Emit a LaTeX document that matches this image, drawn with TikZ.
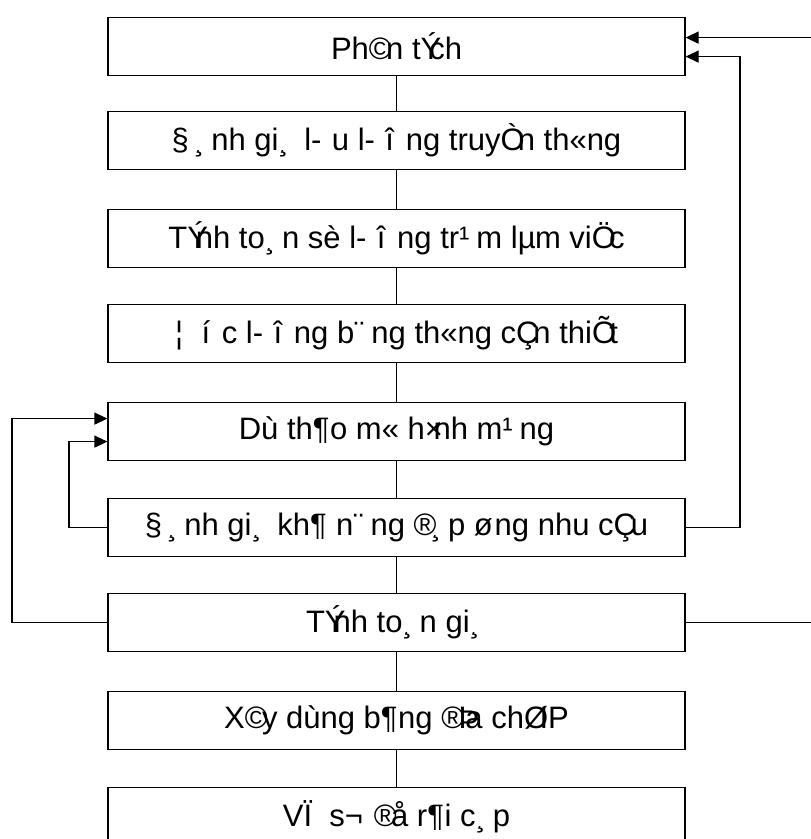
\documentclass[tikz,border=0pt]{standalone}
\usepackage{fontspec}
\setmainfont{Liberation Sans}
\usetikzlibrary{arrows.meta}
% glyph #1 drawn with the advance width of letter #2
\newcommand{\tc}[2]{\setbox0=\hbox{#2}\hbox to \wd0{#1\hss}}
\begin{document}
\begin{tikzpicture}[x=1pt,y=-1pt,
  stepbox/.style={draw, line width=1.2pt, minimum width=577pt, minimum height=58pt,
    inner sep=0pt, anchor=north, font=\fontsize{31}{34}\selectfont},
  link/.style={line width=1.2pt},
  fb/.style={line width=1.2pt, -{Triangle[length=13pt,width=12pt]}}]
\useasboundingbox (0,0) rectangle (811,839);
\node[stepbox] (b1) at (396.5,17)  {Ph\tc{©}{â}n t\tc{Ý}{í}ch};
\node[stepbox] (b2) at (396.5,111) {\tc{§}{Đ}\tc{¸}{á}nh gi\tc{¸}{á} l\tc{-}{ư}u l\tc{-}{ư}\tc{î}{ợ}ng truy\tc{Ò}{ề}n th\tc{«}{ô}ng};
\node[stepbox] (b3) at (396.5,209) {T\tc{Ý}{í}nh to\tc{¸}{á}n s\tc{è}{ố} l\tc{-}{ư}\tc{î}{ợ}ng tr\tc{¹}{ạ}m l\tc{µ}{à}m vi\tc{Ö}{ệ}c};
\node[stepbox] (b4) at (396.5,304) {\tc{¦}{Ư}\tc{í}{ớ}c l\tc{-}{ư}\tc{î}{ợ}ng b\tc{¨}{ă}ng th\tc{«}{ô}ng c\tc{Ç}{ầ}n thi\tc{Õ}{ế}t};
\node[stepbox] (b5) at (396.5,402) {Dù th\tc{¶}{ả}o m\tc{«}{ô} h\tc{×}{ì}nh m\tc{¹}{ạ}ng};
\node[stepbox] (b6) at (396.5,498) {\tc{§}{Đ}\tc{¸}{á}nh gi\tc{¸}{á} kh\tc{¶}{ả} n\tc{¨}{ă}ng \tc{®}{đ}\tc{¸}{á}p \tc{ø}{ứ}ng nhu c\tc{Ç}{ầ}u};
\node[stepbox] (b7) at (396.5,593) {T\tc{Ý}{í}nh to\tc{¸}{á}n gi\tc{¸}{á}};
\node[stepbox] (b8) at (396.5,691) {X\tc{©}{â}y dùng b\tc{¶}{ả}ng \tc{®}{đ}\tc{Þ}{ị}a ch\tc{Ø}{ỉ} IP};
\node[stepbox] (b9) at (396.5,787) {V\tc{Ï}{ẽ} s\tc{¬}{ơ} \tc{®}{đ}\tc{å}{ồ} r\tc{¶}{ả}i c\tc{¸}{á}p};
\foreach \a/\b in {b1/b2,b2/b3,b3/b4,b4/b5,b5/b6,b6/b7,b7/b8,b8/b9}
  \draw[link] (\a.south) -- (\b.north);
\coordinate (rOut) at (814,0);
\coordinate (rIn) at (740,0);
\coordinate (lOut) at (12,0);
\coordinate (lIn) at (69,0);
\draw[fb] (b7.east) -- (b7.east -| rOut) |- ([yshift=9pt]b1.east);
\draw[fb] (b6.east) -- (b6.east -| rIn) |- ([yshift=-10pt]b1.east);
\draw[fb] (b7.west) -- (b7.west -| lOut) |- ([yshift=13pt]b5.west);
\draw[fb] (b6.west) -- (b6.west -| lIn) |- ([yshift=-10pt]b5.west);
\end{tikzpicture}
\end{document}
